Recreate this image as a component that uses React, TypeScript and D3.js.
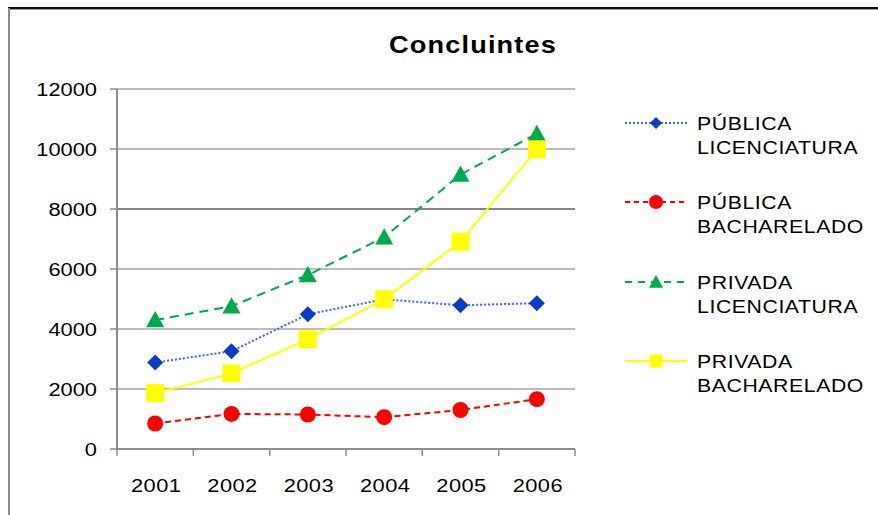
import React from "react";
import * as d3 from "d3";

const years = ["2001", "2002", "2003", "2004", "2005", "2006"];
const yTicks = [0, 2000, 4000, 6000, 8000, 10000, 12000];
const publicaLicenciatura = [2880, 3260, 4490, 4990, 4790, 4860];
const publicaBacharelado = [850, 1170, 1150, 1060, 1300, 1660];
const privadaLicenciatura = [4300, 4760, 5800, 7060, 9150, 10510];
const privadaBacharelado = [1860, 2520, 3660, 4990, 6910, 9990];

const seriesNames = [
  ["PÚBLICA", "LICENCIATURA"],
  ["PÚBLICA", "BACHARELADO"],
  ["PRIVADA", "LICENCIATURA"],
  ["PRIVADA", "BACHARELADO"],
];

const W = 878;
const H = 515;
const left = 117;
const right = 575;
const top = 89;
const bottom = 449;

const font = "Arial, 'Liberation Sans', Helvetica, sans-serif";
const SX = 1.18;

type Style = {
  stroke: string;
  fill: string;
  dash: string;
  legendDash: string;
  width: number;
  marker: "diamond" | "circle" | "triangle" | "square";
};

const styles: Style[] = [
  { stroke: "#3D66F0", fill: "#0A3CC8", dash: "2,2", legendDash: "2,2", width: 2, marker: "diamond" },
  { stroke: "#FF0000", fill: "#FF0000", dash: "6,4", legendDash: "5,4", width: 2, marker: "circle" },
  { stroke: "#00A84F", fill: "#00A84F", dash: "9,6", legendDash: "7,6", width: 2, marker: "triangle" },
  { stroke: "#FFFF00", fill: "#FFFF00", dash: "none", legendDash: "none", width: 2, marker: "square" },
];

const allSeries = [publicaLicenciatura, publicaBacharelado, privadaLicenciatura, privadaBacharelado];

function Marker({ kind, x, y, s, fill }: { kind: string; x: number; y: number; s: number; fill: string }) {
  if (kind === "diamond") {
    return <path d={`M${x},${y - s}L${x + s},${y}L${x},${y + s}L${x - s},${y}Z`} fill={fill} />;
  }
  if (kind === "circle") {
    return <circle cx={x} cy={y} r={s} fill={fill} />;
  }
  if (kind === "triangle") {
    const h = s * 1.8;
    return <path d={`M${x},${y - h * 0.55}L${x + s},${y + h * 0.45}L${x - s},${y + h * 0.45}Z`} fill={fill} />;
  }
  return <rect x={x - s} y={y - s} width={2 * s} height={2 * s} fill={fill} />;
}

function T({
  x,
  y,
  anchor = "start",
  size,
  spacing = 0,
  bold = false,
  children,
}: {
  x: number;
  y: number;
  anchor?: string;
  size: number;
  spacing?: number;
  bold?: boolean;
  children: React.ReactNode;
}) {
  return (
    <text
      transform={`translate(${x},${y}) scale(${SX},1)`}
      textAnchor={anchor}
      fontSize={size}
      fontWeight={bold ? "bold" : "normal"}
      letterSpacing={spacing}
      fill="#000"
    >
      {children}
    </text>
  );
}

export default function App() {
  const x = d3.scaleBand<string>().domain(years).range([left, right]).padding(0);
  const y = d3.scaleLinear().domain([0, 12000]).range([bottom, top]);
  const line = d3
    .line<number>()
    .x((_, i) => (x(years[i]) as number) + x.bandwidth() / 2)
    .y((d) => y(d));

  const markerSize = [8, 8, 9, 9];
  const legendMarker = [6, 7, 7, 6.5];
  const legendY = [123, 202, 282, 361];

  return (
    <svg
      width={W}
      height={H}
      style={{ position: "absolute", left: 0, top: 0, background: "#fff" }}
      fontFamily={font}
    >
      <rect x={0} y={0} width={W} height={H} fill="#fff" />
      {/* frame */}
      <line x1={8} x2={W} y1={8} y2={8} stroke="#111" strokeWidth={2} />
      <line x1={8} x2={W} y1={9.5} y2={9.5} stroke="#9a9a9a" strokeWidth={1} />
      <line x1={9} x2={9} y1={8} y2={H} stroke="#8a8a8a" strokeWidth={2} />

      <T x={473} y={53} anchor="middle" size={23} spacing={1.0} bold>
        Concluintes
      </T>

      {/* gridlines and y ticks */}
      {yTicks.map((t) => (
        <g key={t}>
          {t > 0 && (
            <line
              x1={left}
              x2={right}
              y1={y(t)}
              y2={y(t)}
              stroke={t === 8000 ? "#858585" : "#a6a6a6"}
              strokeWidth={t === 8000 ? 2 : 1.5}
            />
          )}
          <line x1={left - 7} x2={left} y1={y(t)} y2={y(t)} stroke="#8c8c8c" strokeWidth={1.5} />
          <T x={97} y={y(t) + 6.5} anchor="end" size={18.5}>
            {t}
          </T>
        </g>
      ))}

      {/* axes */}
      <line x1={left} x2={left} y1={top} y2={bottom} stroke="#8c8c8c" strokeWidth={2} />
      <line x1={left} x2={right} y1={bottom} y2={bottom} stroke="#8c8c8c" strokeWidth={2} />
      {[...years.map((yr) => x(yr) as number), right].map((tx, i) => (
        <line key={i} x1={tx} x2={tx} y1={bottom} y2={bottom + 7} stroke="#8c8c8c" strokeWidth={1.5} />
      ))}
      {years.map((yr) => (
        <T key={yr} x={(x(yr) as number) + x.bandwidth() / 2 + 1} y={492} anchor="middle" size={18.5} spacing={0.4}>
          {yr}
        </T>
      ))}

      {/* series */}
      {allSeries.map((vals, si) => (
        <g key={si}>
          <path
            d={line(vals) as string}
            fill="none"
            stroke={styles[si].stroke}
            strokeWidth={styles[si].width}
            strokeDasharray={styles[si].dash}
          />
          {vals.map((v, i) => (
            <Marker
              key={i}
              kind={styles[si].marker}
              x={(x(years[i]) as number) + x.bandwidth() / 2}
              y={y(v)}
              s={markerSize[si]}
              fill={styles[si].fill}
            />
          ))}
        </g>
      ))}

      {/* legend */}
      {seriesNames.map((names, si) => (
        <g key={si}>
          <line
            x1={625}
            x2={687}
            y1={legendY[si]}
            y2={legendY[si]}
            stroke={styles[si].stroke}
            strokeWidth={2}
            strokeDasharray={styles[si].legendDash}
          />
          <Marker kind={styles[si].marker} x={656} y={legendY[si]} s={legendMarker[si]} fill={styles[si].fill} />
          {names.map((n, li) => (
            <T key={li} x={697} y={legendY[si] + 6.5 + li * 24} size={18} spacing={0.5}>
              {n}
            </T>
          ))}
        </g>
      ))}
    </svg>
  );
}
